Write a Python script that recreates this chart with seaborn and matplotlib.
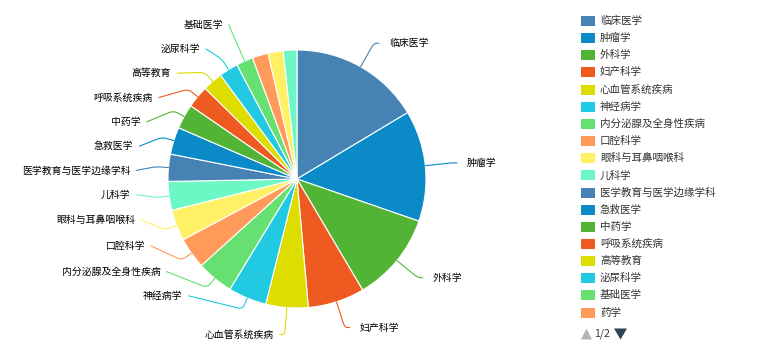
import numpy as np
import pandas as pd
import matplotlib
matplotlib.use("Agg")
import matplotlib.pyplot as plt
from matplotlib.patches import Rectangle, Polygon, PathPatch
from matplotlib.path import Path
import seaborn as sns

# ---- data -------------------------------------------------------------
categories = ["临床医学", "肿瘤学", "外科学", "妇产科学", "心血管系统疾病", "神经病学",
              "内分泌腺及全身性疾病", "口腔科学", "眼科与耳鼻咽喉科", "儿科学",
              "医学教育与医学边缘学科", "急救医学", "中药学", "呼吸系统疾病", "高等教育",
              "泌尿科学", "基础医学", "药学", "护理学", "预防医学"]
counts = [164, 139, 112, 71, 53, 48, 46, 39, 39, 36, 34, 34, 31, 28, 25, 24, 21, 20, 19, 17]
palette_hex = ["#4682b4", "#0a8ac6", "#52b434", "#ee5a1f", "#dddd00",
               "#22c9e3", "#66e070", "#ff9a5a", "#fff066", "#6cf7c4"]
legend_rows = 18          # entries shown on the first legend page
legend_page = "1/2"

# ---- layout constants (pixels, y measured downward) -------------------
W, H = 757, 350
CX, CY, RADIUS = 297, 179, 129
ELBOW_R, ANCHOR_R = 141, 156
LEAD, PITCH = 5, 24.3
CORNER = 5
MIN_LABEL_SHARE = 0.021
LABEL_PT, LEGEND_PT = 7.1, 7.6

sns.set_theme(style="white")
plt.rcParams["font.family"] = ["Noto Sans CJK SC", "DejaVu Sans"]

df = pd.DataFrame({"name": categories, "count": counts})
df["color"] = list(sns.color_palette(palette_hex, len(df)))
share = df["count"] / df["count"].sum()
df["mid"] = (share.cumsum() - share / 2) * 360      # degrees clockwise from 12 o'clock
df["show"] = share >= MIN_LABEL_SHARE


def polar(angle, radius):
    t = np.radians(angle)
    return np.array([CX + radius * np.sin(t), CY - radius * np.cos(t)])


def spread(items, lo, hi):
    """Stack labels of one side so they keep PITCH apart and fit in [lo, hi]."""
    items.sort(key=lambda d: d["y"])
    pushed, last = False, -1e9
    for it in items:
        if it["y"] < last + PITCH:
            it["y"] = last + PITCH
            pushed = True
        last = it["y"]
    if not pushed:
        return
    over = items[-1]["y"] - hi
    if over > 0:
        gaps = [max(items[k]["y"] - items[k - 1]["y"] - PITCH, 0) for k in range(1, len(items))]
        total = sum(gaps)
        if total > 0:
            pct = min(over / total, 0.8)
            cum = 0.0
            for k in range(1, len(items)):
                cum += gaps[k - 1] * pct
                items[k]["y"] -= cum
    over = items[-1]["y"] - hi
    if over > 0:
        move = min(items[0]["y"] - lo, over)
        for it in items:
            it["y"] -= move


def leader_path(p0, p1, p2):
    """Polyline p0 -> p1 -> p2 with a rounded corner at p1 (screen coords)."""
    def toward(a, b):
        v = b - a
        n = np.hypot(*v)
        return a + v * min(CORNER / n, 0.5) if n > 0 else a
    a, b = toward(p1, p0), toward(p1, p2)
    pts = [p0, a, p1, b, p2]
    codes = [Path.MOVETO, Path.LINETO, Path.CURVE3, Path.CURVE3, Path.LINETO]
    return Path([(x, H - y) for x, y in pts], codes)


labels = []
for row in df[df["show"]].itertuples():
    ax_, ay_ = polar(row.mid, ANCHOR_R)
    labels.append(dict(name=row.name, color=row.color, mid=row.mid, x=ax_, y=ay_, y0=ay_,
                       dir=1 if row.mid < 180 else -1, bottom=abs(row.mid - 180) < 10))

for side in (1, -1):
    group = [d for d in labels if d["dir"] == side and not d["bottom"]]
    spread(group, PITCH / 2, CY + RADIUS - PITCH / 2)

for d in labels:
    d["moved"] = abs(d["y"] - d["y0"]) > 0.5
    dy = d["y"] - CY
    if d["moved"] and abs(dy) < ELBOW_R:
        d["x"] = CX + d["dir"] * np.sqrt(ANCHOR_R ** 2 - dy ** 2)

# ---- drawing ------------------------------------------------------------
fig = plt.figure(figsize=(W / 100, H / 100), dpi=100, facecolor="white")
ax = fig.add_axes([0, 0, 1, 1])
ax.pie(df["count"], colors=df["color"], startangle=90, counterclock=False,
       center=(CX, H - CY), radius=RADIUS,
       wedgeprops=dict(edgecolor="white", linewidth=0.8))
ax.set_xlim(0, W)
ax.set_ylim(0, H)
ax.set_aspect("equal")
ax.axis("off")

for d in labels:
    rim = polar(d["mid"], RADIUS)
    elbow = polar(d["mid"], ELBOW_R if d["moved"] else ANCHOR_R)
    end = np.array([d["x"] + d["dir"] * LEAD, d["y"]])
    ax.add_patch(PathPatch(leader_path(rim, elbow, end), facecolor="none",
                           edgecolor=d["color"], lw=0.8, capstyle="round"))
    if d["dir"] > 0:
        ax.text(end[0] + 10, H - d["y"], d["name"], ha="left", va="center",
                fontsize=LABEL_PT, color="#000000")
    else:
        ax.text(end[0] - 6, H - d["y"], d["name"], ha="right", va="center",
                fontsize=LABEL_PT, color="#000000")

# legend, first page
for i, row in enumerate(df.head(legend_rows).itertuples()):
    yc = 21 + i * 17.15
    ax.add_patch(Rectangle((581, H - yc - 5), 14, 10, facecolor=row.color, edgecolor="none"))
    ax.text(600, H - yc, row.name, ha="left", va="center", fontsize=LEGEND_PT, color="#333333")

# page controls
yc = 334
ax.add_patch(Polygon([(581, H - yc - 5.5), (592, H - yc - 5.5), (586.5, H - yc + 5.5)],
                     closed=True, facecolor="#b5b5b5", edgecolor="none"))
ax.text(594, H - yc, legend_page, ha="left", va="center", fontsize=LEGEND_PT, color="#333333")
ax.add_patch(Polygon([(614, H - yc + 5.5), (627, H - yc + 5.5), (620.5, H - yc - 5.5)],
                     closed=True, facecolor="#2f4554", edgecolor="none"))

fig.savefig("out.png", dpi=100, facecolor="white")
